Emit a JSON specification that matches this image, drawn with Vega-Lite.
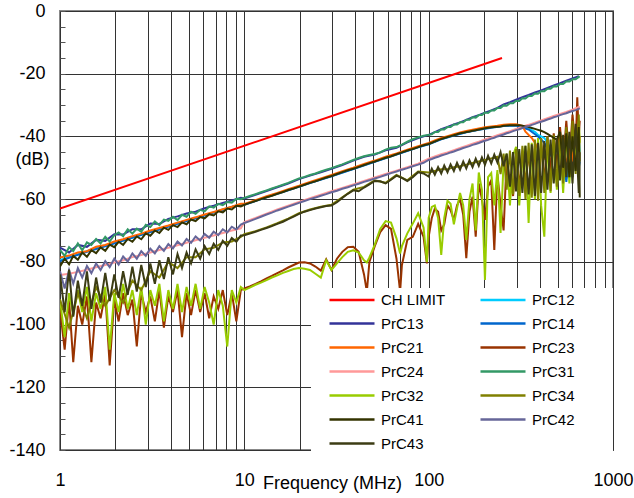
{
  "$schema": "https://vega.github.io/schema/vega-lite/v6.json",
  "width": 553,
  "height": 439,
  "autosize": "none",
  "padding": {"left": 60, "top": 11, "right": 21, "bottom": 48},
  "background": "white",
  "config": {
    "view": {"stroke": "#888888", "strokeWidth": 2},
    "font": "Liberation Sans"
  },
  "data": {"values": [
    {"f":1,"CH LIMIT":-63,"PrC31":-76.2,"PrC13":-75.5,"PrC41":-81.5,"PrC21":-78.6,"PrC12":-79.4,"PrC14":-79.8,"PrC42":-83,"PrC24":-84.2,"PrC43":-84,"PrC34":-92,"PrC32":-92,"PrC23":-95},
    {"f":1.06,"PrC31":-78.1,"PrC41":-79,"PrC42":-88.5,"PrC43":-96,"PrC32":-104,"PrC23":-108},
    {"f":1.12,"PrC31":-75.3,"PrC13":-77,"PrC41":-80.8,"PrC21":-78,"PrC14":-78.7,"PrC42":-82.6,"PrC24":-83.8,"PrC43":-82.5,"PrC34":-101,"PrC32":-90,"PrC23":-92},
    {"f":1.18,"PrC31":-76.6,"PrC41":-78.1,"PrC42":-86.9,"PrC43":-97.5,"PrC32":-97,"PrC23":-112},
    {"f":1.25,"PrC31":-74.1,"PrC13":-74.6,"PrC41":-79.3,"PrC21":-77,"PrC12":-77.6,"PrC42":-82,"PrC24":-83.2,"PrC43":-86,"PrC34":-90,"PrC32":-89,"PrC23":-94},
    {"f":1.32,"PrC31":-76.3,"PrC41":-77,"PrC42":-85,"PrC43":-94,"PrC32":-96,"PrC23":-100},
    {"f":1.4,"PrC31":-73.8,"PrC13":-75.2,"PrC41":-78.4,"PrC21":-76.6,"PrC14":-76.8,"PrC42":-81.3,"PrC24":-82.5,"PrC43":-83,"PrC34":-98,"PrC32":-88,"PrC23":-91},
    {"f":1.48,"PrC31":-74.6,"PrC41":-76.3,"PrC42":-83.6,"PrC43":-95,"PrC32":-99,"PrC23":-112},
    {"f":1.57,"PrC31":-72.7,"PrC13":-73,"PrC41":-77.2,"PrC21":-75.2,"PrC12":-75.6,"PrC42":-80.5,"PrC24":-81.7,"PrC43":-85,"PrC34":-88,"PrC32":-90,"PrC23":-93},
    {"f":1.66,"PrC31":-74.1,"PrC41":-75.4,"PrC42":-82.6,"PrC43":-93,"PrC32":-95,"PrC23":-98},
    {"f":1.76,"PrC31":-72,"PrC13":-73.3,"PrC41":-76.5,"PrC21":-74.6,"PrC14":-75,"PrC42":-79.8,"PrC24":-81,"PrC43":-83.5,"PrC34":-94,"PrC32":-88,"PrC23":-90},
    {"f":1.86,"PrC31":-73.5,"PrC41":-74.5,"PrC42":-81.7,"PrC43":-92.5,"PrC32":-108,"PrC23":-113},
    {"f":1.97,"PrC31":-71.5,"PrC13":-71.2,"PrC41":-75.3,"PrC21":-73.5,"PrC12":-74,"PrC42":-79,"PrC24":-80.2,"PrC43":-84,"PrC34":-89,"PrC32":-90,"PrC23":-92},
    {"f":2.08,"PrC31":-70.6,"PrC41":-73.6,"PrC42":-80.9,"PrC43":-91.5,"PrC32":-96,"PrC23":-99},
    {"f":2.2,"PrC31":-71.8,"PrC13":-71.3,"PrC41":-74.6,"PrC21":-72.8,"PrC14":-73.2,"PrC42":-78.3,"PrC24":-79.5,"PrC43":-83,"PrC34":-93,"PrC32":-87,"PrC23":-90},
    {"f":2.33,"PrC31":-69.6,"PrC41":-72.7,"PrC42":-79.9,"PrC43":-90.5,"PrC32":-95,"PrC23":-97},
    {"f":2.47,"PrC31":-71,"PrC13":-69.6,"PrC41":-73.6,"PrC21":-71.8,"PrC12":-72.3,"PrC42":-77.3,"PrC24":-78.5,"PrC43":-81.5,"PrC34":-86,"PrC32":-89,"PrC23":-92},
    {"f":2.61,"PrC31":-69.4,"PrC41":-71.9,"PrC42":-79,"PrC43":-89.5,"PrC32":-97,"PrC23":-107},
    {"f":2.76,"PrC31":-70.4,"PrC13":-69.6,"PrC41":-72.8,"PrC21":-71,"PrC14":-71.4,"PrC42":-76.6,"PrC24":-77.8,"PrC43":-81,"PrC34":-89,"PrC32":-88,"PrC23":-90},
    {"f":2.92,"PrC31":-68.2,"PrC41":-70.9,"PrC42":-78.1,"PrC43":-88,"PrC32":-100,"PrC23":-96},
    {"f":3.09,"PrC31":-68.9,"PrC13":-67.8,"PrC41":-71.7,"PrC21":-70,"PrC12":-70.4,"PrC42":-75.8,"PrC24":-77,"PrC43":-80.5,"PrC34":-83,"PrC32":-89,"PrC23":-91},
    {"f":3.27,"PrC31":-67.1,"PrC41":-70,"PrC42":-77.3,"PrC43":-87,"PrC32":-94,"PrC23":-99},
    {"f":3.46,"PrC31":-68.3,"PrC13":-67.9,"PrC41":-70.8,"PrC21":-69.2,"PrC14":-69.7,"PrC42":-75,"PrC24":-76.2,"PrC43":-79.5,"PrC34":-85,"PrC32":-87,"PrC23":-89},
    {"f":3.66,"PrC31":-66.5,"PrC41":-69.1,"PrC42":-76.5,"PrC43":-85.5,"PrC32":-99,"PrC23":-101},
    {"f":3.87,"PrC31":-66.9,"PrC13":-66.3,"PrC41":-69.8,"PrC21":-68.4,"PrC12":-68.6,"PrC42":-74.3,"PrC24":-75.5,"PrC43":-78.5,"PrC34":-80,"PrC32":-89,"PrC23":-91},
    {"f":4.1,"PrC31":-65.6,"PrC41":-68.3,"PrC42":-75.7,"PrC43":-84,"PrC32":-95,"PrC23":-96},
    {"f":4.34,"PrC31":-66.7,"PrC13":-65.5,"PrC41":-68.9,"PrC21":-67.5,"PrC14":-67.9,"PrC42":-73.5,"PrC24":-74.7,"PrC43":-77.5,"PrC34":-82,"PrC32":-87,"PrC23":-89},
    {"f":4.59,"PrC31":-65,"PrC41":-67.4,"PrC42":-74.8,"PrC43":-82,"PrC32":-96,"PrC23":-104},
    {"f":4.86,"PrC31":-65.6,"PrC13":-64.6,"PrC41":-68,"PrC21":-66.6,"PrC12":-66.8,"PrC42":-72.7,"PrC24":-73.9,"PrC43":-77,"PrC34":-78.5,"PrC32":-88,"PrC23":-90},
    {"f":5.14,"PrC31":-64,"PrC41":-66.5,"PrC42":-73.9,"PrC43":-80.5,"PrC32":-94,"PrC23":-97},
    {"f":5.44,"PrC31":-64.7,"PrC13":-64,"PrC41":-67,"PrC21":-65.8,"PrC14":-66.1,"PrC42":-71.9,"PrC24":-73.1,"PrC43":-76,"PrC34":-78.5,"PrC32":-87,"PrC23":-89},
    {"f":5.76,"PrC31":-63.4,"PrC41":-65.7,"PrC42":-73.2,"PrC43":-79,"PrC32":-95,"PrC23":-96},
    {"f":6.09,"PrC31":-63.9,"PrC13":-62.9,"PrC41":-66.1,"PrC21":-64.9,"PrC12":-65.1,"PrC42":-71.1,"PrC24":-72.3,"PrC43":-75,"PrC34":-76,"PrC32":-88,"PrC23":-90},
    {"f":6.45,"PrC31":-62.3,"PrC41":-64.8,"PrC42":-72.3,"PrC43":-77.5,"PrC32":-93,"PrC23":-98},
    {"f":6.82,"PrC31":-62.7,"PrC13":-62.1,"PrC41":-65.2,"PrC21":-64.1,"PrC14":-64.3,"PrC42":-70.4,"PrC24":-71.6,"PrC43":-74.2,"PrC34":-75.5,"PrC32":-100,"PrC23":-91},
    {"f":7.22,"PrC31":-61.5,"PrC41":-63.9,"PrC42":-71.5,"PrC43":-76.2,"PrC32":-89,"PrC23":-95},
    {"f":7.64,"PrC31":-61.9,"PrC13":-61.2,"PrC41":-64.2,"PrC21":-63.2,"PrC12":-63.3,"PrC42":-69.6,"PrC24":-70.8,"PrC43":-73.3,"PrC34":-73.8,"PrC32":-94,"PrC23":-89},
    {"f":8.08,"PrC31":-60.9,"PrC41":-63,"PrC42":-70.6,"PrC43":-74.9,"PrC32":-107,"PrC23":-97},
    {"f":8.55,"PrC31":-61.1,"PrC13":-60.4,"PrC41":-63.3,"PrC21":-62.4,"PrC14":-62.5,"PrC42":-68.8,"PrC24":-70,"PrC43":-72.4,"PrC34":-73.5,"PrC32":-89,"PrC23":-90},
    {"f":9.05,"PrC31":-59.9,"PrC41":-62.1,"PrC42":-69.7,"PrC43":-73.6,"PrC32":-93,"PrC23":-99},
    {"f":9.57,"PrC31":-60,"PrC13":-59.6,"PrC41":-62.3,"PrC21":-61.5,"PrC12":-61.6,"PrC42":-68.1,"PrC24":-69.3,"PrC43":-71.6,"PrC34":-72,"PrC32":-88,"PrC23":-89},
    {"f":10,"PrC31":-59.6,"PrC13":-59.8,"PrC41":-61.8,"PrC21":-61.5,"PrC14":-61.8,"PrC12":-61.7,"PrC42":-67.6,"PrC24":-67.3,"PrC43":-71.5,"PrC34":-71.2,"PrC32":-89,"PrC23":-88.5},
    {"f":10.7,"PrC31":-59,"PrC41":-61.2,"PrC42":-67,"PrC43":-71,"PrC32":-88.2,"PrC23":-87.8},
    {"f":11.5,"PrC31":-58.4,"PrC13":-58.6,"PrC41":-60.6,"PrC21":-60.3,"PrC42":-66.3,"PrC24":-66,"PrC43":-70.4,"PrC34":-70.2,"PrC32":-87.3,"PrC23":-87},
    {"f":12.3,"PrC31":-57.8,"PrC41":-60,"PrC42":-65.6,"PrC43":-69.8,"PrC32":-86.6,"PrC23":-86.2},
    {"f":13.2,"PrC31":-57.2,"PrC13":-57.4,"PrC41":-59.4,"PrC21":-59.1,"PrC12":-59.3,"PrC14":-59.4,"PrC42":-64.9,"PrC24":-64.6,"PrC43":-69.2,"PrC34":-69,"PrC32":-85.8,"PrC23":-85.3},
    {"f":14.1,"PrC31":-56.6,"PrC41":-58.9,"PrC42":-64.3,"PrC43":-68.6,"PrC32":-85,"PrC23":-84.5},
    {"f":15.1,"PrC31":-56,"PrC13":-56.2,"PrC41":-58.3,"PrC21":-58,"PrC42":-63.6,"PrC24":-63.3,"PrC43":-67.9,"PrC34":-67.7,"PrC32":-84.3,"PrC23":-83.6},
    {"f":16.2,"PrC31":-55.4,"PrC41":-57.7,"PrC42":-63,"PrC43":-67.2,"PrC32":-83.5,"PrC23":-82.7},
    {"f":17.3,"PrC31":-54.8,"PrC13":-55,"PrC41":-57.1,"PrC21":-56.8,"PrC12":-57.1,"PrC14":-57.2,"PrC42":-62.4,"PrC24":-62.1,"PrC43":-66.4,"PrC34":-66.2,"PrC32":-82.9,"PrC23":-81.8},
    {"f":18.5,"PrC31":-54.1,"PrC41":-56.6,"PrC42":-61.8,"PrC43":-65.6,"PrC32":-82.3,"PrC23":-81},
    {"f":19.8,"PrC31":-53.4,"PrC13":-53.6,"PrC41":-56,"PrC21":-55.7,"PrC42":-61.2,"PrC24":-60.9,"PrC43":-64.7,"PrC34":-64.5,"PrC32":-82,"PrC23":-80.2},
    {"f":21.2,"PrC31":-52.9,"PrC41":-55.4,"PrC42":-60.6,"PrC43":-64,"PrC32":-82.2,"PrC23":-80.1},
    {"f":22.7,"PrC31":-52.3,"PrC13":-52.5,"PrC41":-54.8,"PrC21":-54.5,"PrC12":-54.8,"PrC14":-54.9,"PrC42":-60,"PrC24":-59.7,"PrC43":-63.5,"PrC34":-63.3,"PrC32":-82.6,"PrC23":-80.5},
    {"f":24.3,"PrC31":-51.8,"PrC41":-54.3,"PrC42":-59.5,"PrC43":-63,"PrC32":-83.8,"PrC23":-81.5},
    {"f":26,"PrC31":-51.2,"PrC13":-51.4,"PrC41":-53.7,"PrC21":-53.4,"PrC42":-58.9,"PrC24":-58.6,"PrC43":-62.6,"PrC34":-62.4,"PrC32":-85,"PrC23":-82.8},
    {"f":27.8,"PrC31":-50.6,"PrC41":-53.1,"PrC42":-58.4,"PrC43":-62.2,"PrC32":-79.5,"PrC23":-79.2},
    {"f":29.7,"PrC31":-50.1,"PrC13":-50.3,"PrC41":-52.6,"PrC21":-52.3,"PrC12":-52.6,"PrC14":-52.7,"PrC42":-57.8,"PrC24":-57.5,"PrC43":-62,"PrC34":-61.8,"PrC32":-82.6,"PrC23":-82.6},
    {"f":31.8,"PrC31":-49.5,"PrC41":-52,"PrC42":-57.3,"PrC43":-61,"PrC32":-80.5,"PrC23":-79},
    {"f":34,"PrC31":-48.9,"PrC13":-49.1,"PrC41":-51.4,"PrC21":-51.1,"PrC42":-56.7,"PrC24":-56.4,"PrC43":-59.6,"PrC34":-59.4,"PrC32":-78.5,"PrC23":-76.8},
    {"f":36.4,"PrC31":-48.2,"PrC41":-50.8,"PrC42":-56.2,"PrC43":-58.3,"PrC32":-76.8,"PrC23":-75.3},
    {"f":39,"PrC31":-47.5,"PrC13":-47.7,"PrC41":-50.3,"PrC21":-50,"PrC12":-50.3,"PrC14":-50.4,"PrC42":-55.6,"PrC24":-55.3,"PrC43":-57.2,"PrC34":-57,"PrC32":-76.3,"PrC23":-75.2},
    {"f":41.7,"PrC31":-46.9,"PrC41":-49.7,"PrC42":-55.1,"PrC43":-57.5,"PrC32":-77,"PrC23":-76.8},
    {"f":44.6,"PrC31":-46.3,"PrC13":-46.5,"PrC41":-49.1,"PrC21":-48.8,"PrC42":-54.5,"PrC24":-54.2,"PrC43":-56.3,"PrC34":-56.1,"PrC32":-79.5,"PrC23":-84},
    {"f":46.2,"PrC32":-80.2,"PrC23":-89.5},
    {"f":47.7,"PrC31":-45.9,"PrC41":-48.5,"PrC42":-54,"PrC43":-55.3,"PrC32":-78.6,"PrC23":-80},
    {"f":51,"PrC31":-45.6,"PrC13":-45.8,"PrC41":-48,"PrC21":-47.7,"PrC12":-48,"PrC14":-48.1,"PrC42":-53.4,"PrC24":-53.1,"PrC43":-54.2,"PrC34":-54,"PrC32":-74.5,"PrC23":-75},
    {"f":54.6,"PrC31":-45.1,"PrC41":-47.4,"PrC42":-52.9,"PrC43":-54.3,"PrC32":-69.5,"PrC23":-70.5},
    {"f":58.4,"PrC31":-44.2,"PrC13":-44.4,"PrC41":-46.8,"PrC21":-46.5,"PrC42":-52.3,"PrC24":-52,"PrC43":-55,"PrC34":-54.8,"PrC32":-67,"PrC23":-68.3},
    {"f":62.5,"PrC31":-43.6,"PrC41":-46.3,"PrC42":-51.7,"PrC43":-53.8,"PrC32":-67.5,"PrC23":-69.5},
    {"f":66.9,"PrC31":-43.4,"PrC13":-43.6,"PrC41":-45.7,"PrC21":-45.4,"PrC12":-45.7,"PrC14":-45.8,"PrC42":-51.2,"PrC24":-50.9,"PrC43":-52.5,"PrC34":-52.3,"PrC32":-72.5,"PrC23":-79},
    {"f":70,"PrC32":-77.3,"PrC23":-89.5},
    {"f":71.6,"PrC31":-42.6,"PrC41":-45.1,"PrC42":-50.6,"PrC43":-53.2,"PrC32":-75,"PrC23":-81},
    {"f":76.6,"PrC31":-41.7,"PrC13":-41.9,"PrC41":-44.5,"PrC21":-44.2,"PrC42":-50.1,"PrC24":-49.8,"PrC43":-54.2,"PrC34":-54,"PrC32":-70.9,"PrC23":-73},
    {"f":82,"PrC31":-40.9,"PrC41":-44,"PrC42":-49.5,"PrC43":-53,"PrC32":-67.8,"PrC23":-72},
    {"f":87.7,"PrC31":-40.3,"PrC13":-40.5,"PrC41":-43.4,"PrC21":-43.1,"PrC12":-43.4,"PrC14":-43.5,"PrC42":-49,"PrC24":-48.7,"PrC43":-51.4,"PrC34":-51.2,"PrC32":-64.5,"PrC23":-67.9},
    {"f":93.8,"PrC31":-39.8,"PrC41":-42.8,"PrC42":-48.4,"PrC43":-51.8,"PrC32":-69,"PrC23":-72},
    {"f":97.8,"PrC32":-80,"PrC23":-80.5},
    {"f":100,"PrC31":-39.5,"PrC13":-39.5,"PrC41":-42.4,"PrC21":-42.1,"PrC12":-42.4,"PrC14":-42.5,"PrC42":-47.5,"PrC24":-47.1,"PrC43":-52.8,"PrC34":-51.5,"PrC32":-66,"PrC23":-72},
    {"f":104,"PrC31":-39.3,"PrC41":-42,"PrC42":-47.2,"PrC43":-50.3,"PrC32":-62.5,"PrC23":-66},
    {"f":108,"PrC31":-38.6,"PrC13":-38.6,"PrC41":-41.6,"PrC21":-41.3,"PrC42":-46.8,"PrC24":-46.4,"PrC43":-52.2,"PrC34":-51,"PrC32":-62,"PrC23":-63},
    {"f":112.5,"PrC31":-38.6,"PrC41":-41.2,"PrC42":-46.5,"PrC43":-49.8,"PrC32":-66,"PrC23":-64},
    {"f":117,"PrC31":-37.7,"PrC13":-37.7,"PrC41":-40.8,"PrC21":-40.5,"PrC12":-40.8,"PrC14":-40.9,"PrC42":-46.1,"PrC24":-45.7,"PrC43":-51.8,"PrC34":-50.5,"PrC32":-77.8,"PrC23":-70},
    {"f":121.5,"PrC31":-37.8,"PrC41":-40.5,"PrC42":-45.8,"PrC43":-49.3,"PrC32":-66,"PrC23":-68},
    {"f":126.5,"PrC31":-37,"PrC13":-37,"PrC41":-40.2,"PrC21":-39.9,"PrC42":-45.5,"PrC24":-45.1,"PrC43":-51.4,"PrC34":-50.5,"PrC32":-60.5,"PrC23":-62},
    {"f":131.5,"PrC31":-37,"PrC41":-39.9,"PrC42":-45.1,"PrC43":-48.9,"PrC32":-61.5,"PrC23":-63.5},
    {"f":137,"PrC31":-36.2,"PrC13":-36.2,"PrC41":-39.6,"PrC21":-39.3,"PrC12":-39.6,"PrC14":-39.7,"PrC42":-44.8,"PrC24":-44.4,"PrC43":-51,"PrC34":-49.8,"PrC32":-68,"PrC23":-66.6},
    {"f":142.5,"PrC31":-36.2,"PrC41":-39.3,"PrC42":-44.4,"PrC43":-48.4,"PrC32":-63,"PrC23":-62},
    {"f":148,"PrC31":-35.5,"PrC13":-35.5,"PrC41":-39,"PrC21":-38.7,"PrC42":-44.1,"PrC24":-43.7,"PrC43":-50.6,"PrC34":-49.5,"PrC32":-58,"PrC23":-60},
    {"f":154,"PrC31":-35.5,"PrC41":-38.8,"PrC42":-43.7,"PrC43":-48,"PrC32":-62,"PrC23":-65},
    {"f":160,"PrC31":-34.7,"PrC13":-34.7,"PrC41":-38.6,"PrC21":-38.3,"PrC12":-38.6,"PrC14":-38.7,"PrC42":-43.4,"PrC24":-43,"PrC43":-50.2,"PrC34":-49,"PrC32":-73,"PrC23":-78.8},
    {"f":166.5,"PrC31":-34.7,"PrC41":-38.4,"PrC42":-43.1,"PrC43":-47.6,"PrC32":-60,"PrC23":-64},
    {"f":173,"PrC31":-33.9,"PrC13":-33.9,"PrC41":-38.2,"PrC21":-37.9,"PrC42":-42.7,"PrC24":-42.3,"PrC43":-49.8,"PrC34":-48.5,"PrC32":-55,"PrC23":-59.2},
    {"f":180,"PrC31":-34,"PrC41":-38,"PrC42":-42.4,"PrC43":-47.1,"PrC32":-70,"PrC23":-72},
    {"f":187,"PrC31":-33.2,"PrC13":-33.2,"PrC41":-37.8,"PrC21":-37.5,"PrC12":-37.8,"PrC14":-37.9,"PrC42":-42.1,"PrC24":-41.7,"PrC43":-49.4,"PrC34":-48,"PrC32":-51.5,"PrC23":-55},
    {"f":194.5,"PrC31":-33.2,"PrC41":-37.6,"PrC42":-41.7,"PrC43":-46.7,"PrC32":-57,"PrC23":-60},
    {"f":202,"PrC31":-32.4,"PrC13":-32.4,"PrC41":-37.4,"PrC21":-37.1,"PrC42":-41.4,"PrC24":-41,"PrC43":-49,"PrC34":-47.5,"PrC32":-85.8,"PrC23":-66.6},
    {"f":210,"PrC31":-32.5,"PrC41":-37.2,"PrC42":-41.1,"PrC43":-46.2,"PrC32":-53,"PrC23":-56},
    {"f":218.5,"PrC31":-31.7,"PrC13":-31.7,"PrC41":-37.1,"PrC21":-36.8,"PrC12":-37.1,"PrC14":-37.2,"PrC42":-40.7,"PrC24":-40.3,"PrC43":-48.6,"PrC34":-47,"PrC32":-51.7,"PrC23":-54},
    {"f":227,"PrC31":-31.7,"PrC41":-37,"PrC42":-40.4,"PrC43":-45.8,"PrC32":-62,"PrC23":-76.2},
    {"f":236,"PrC31":-30.9,"PrC13":-30.9,"PrC41":-36.9,"PrC21":-36.6,"PrC42":-40,"PrC24":-39.6,"PrC43":-48.3,"PrC34":-46.5,"PrC32":-50.7,"PrC23":-52},
    {"f":245.5,"PrC31":-30.9,"PrC41":-36.8,"PrC42":-39.7,"PrC43":-45,"PrC34":-52,"PrC32":-70.8,"PrC23":-62},
    {"f":250,"CH LIMIT":-15},
    {"f":255,"PrC31":-30.1,"PrC13":-29.8,"PrC41":-36.6,"PrC21":-36.3,"PrC12":-36.6,"PrC14":-36.7,"PrC42":-39.4,"PrC24":-39,"PrC43":-49.5,"PrC34":-45.5,"PrC32":-48,"PrC23":-70},
    {"f":265,"PrC31":-30.2,"PrC41":-36.5,"PrC42":-39,"PrC43":-45.5,"PrC34":-57,"PrC32":-45.5,"PrC23":-47},
    {"f":276,"PrC31":-29.4,"PrC13":-29.1,"PrC41":-36.4,"PrC21":-36.1,"PrC42":-38.7,"PrC24":-38.3,"PrC43":-56,"PrC34":-44.5,"PrC32":-62,"PrC23":-55},
    {"f":287,"PrC31":-29.4,"PrC41":-36.4,"PrC42":-38.3,"PrC43":-45,"PrC34":-58.5,"PrC32":-46,"PrC23":-59},
    {"f":298,"PrC31":-28.6,"PrC13":-28.3,"PrC41":-36.4,"PrC21":-36.1,"PrC12":-36.4,"PrC14":-36.5,"PrC42":-38,"PrC24":-37.6,"PrC43":-57.5,"PrC34":-44,"PrC32":-43.3,"PrC23":-45.5},
    {"f":310,"PrC31":-28.7,"PrC41":-36.4,"PrC42":-37.7,"PrC43":-44,"PrC34":-59,"PrC32":-62,"PrC23":-56},
    {"f":322.5,"PrC31":-27.8,"PrC13":-27.5,"PrC41":-36.6,"PrC21":-36.6,"PrC42":-37.3,"PrC24":-36.9,"PrC43":-58,"PrC34":-43,"PrC32":-47,"PrC23":-46},
    {"f":335,"PrC31":-27.9,"PrC41":-36.8,"PrC21":-38.5,"PrC42":-37,"PrC43":-43,"PrC34":-60,"PrC32":-43,"PrC23":-55},
    {"f":348.5,"PrC31":-27.1,"PrC13":-26.8,"PrC41":-37,"PrC21":-39.5,"PrC12":-37.5,"PrC14":-37.8,"PrC42":-36.7,"PrC24":-36.3,"PrC43":-58.5,"PrC34":-42,"PrC32":-67.6,"PrC23":-44.5},
    {"f":362.5,"PrC31":-27.1,"PrC41":-37.3,"PrC21":-40.5,"PrC42":-36.3,"PrC43":-42.5,"PrC34":-59.5,"PrC32":-42,"PrC23":-58},
    {"f":377,"PrC31":-26.3,"PrC13":-26,"PrC41":-37.6,"PrC21":-42,"PrC12":-38.5,"PrC42":-36,"PrC24":-35.6,"PrC43":-59,"PrC34":-41,"PrC32":-60,"PrC23":-43},
    {"f":392,"PrC31":-26.4,"PrC41":-37.9,"PrC21":-44,"PrC12":-39.5,"PrC14":-40,"PrC42":-35.6,"PrC43":-42,"PrC34":-60.5,"PrC32":-40.5,"PrC23":-57},
    {"f":407.5,"PrC31":-25.6,"PrC13":-25.3,"PrC41":-38.2,"PrC21":-46,"PrC12":-40,"PrC42":-35.3,"PrC24":-34.9,"PrC43":-58,"PrC34":-40.5,"PrC32":-62,"PrC23":-41.5},
    {"f":424,"PrC31":-25.6,"PrC41":-38.6,"PrC21":-47,"PrC12":-40.5,"PrC14":-42,"PrC42":-35,"PrC43":-41.5,"PrC34":-58,"PrC32":-72,"PrC23":-55},
    {"f":441,"PrC31":-24.8,"PrC13":-24.5,"PrC41":-39.2,"PrC21":-45,"PrC12":-42,"PrC14":-44,"PrC42":-34.6,"PrC24":-34.2,"PrC43":-57,"PrC34":-40,"PrC32":-41,"PrC23":-40},
    {"f":458.5,"PrC31":-24.8,"PrC41":-39.8,"PrC21":-48,"PrC12":-44,"PrC14":-46,"PrC42":-34.3,"PrC43":-41,"PrC34":-57.5,"PrC32":-58,"PrC23":-52},
    {"f":477,"PrC31":-24,"PrC13":-23.7,"PrC41":-40.5,"PrC21":-44,"PrC12":-42,"PrC14":-45,"PrC42":-33.9,"PrC24":-33.5,"PrC43":-55,"PrC34":-39.5,"PrC32":-40,"PrC23":-39},
    {"f":496,"PrC31":-24.1,"PrC41":-41,"PrC21":-47.5,"PrC12":-48,"PrC14":-48,"PrC42":-33.6,"PrC43":-40.5,"PrC34":-56,"PrC32":-57,"PrC23":-50},
    {"f":516,"PrC31":-23.3,"PrC13":-23,"PrC41":-38.5,"PrC21":-52,"PrC12":-43,"PrC14":-51,"PrC42":-33.2,"PrC24":-32.8,"PrC43":-54,"PrC34":-38.5,"PrC32":-41,"PrC23":-37},
    {"f":536.5,"PrC31":-23.3,"PrC41":-50,"PrC21":-42,"PrC12":-49,"PrC14":-45,"PrC42":-32.9,"PrC43":-39.5,"PrC34":-55,"PrC32":-58,"PrC23":-49},
    {"f":558,"PrC31":-22.5,"PrC13":-22.2,"PrC41":-39,"PrC21":-50,"PrC12":-42,"PrC14":-54.5,"PrC42":-32.6,"PrC24":-32.2,"PrC43":-53,"PrC34":-37,"PrC32":-39,"PrC23":-35},
    {"f":580,"PrC31":-22.5,"PrC41":-53,"PrC21":-40,"PrC12":-50,"PrC14":-47,"PrC42":-32.2,"PrC43":-38.5,"PrC34":-53,"PrC32":-55,"PrC23":-48},
    {"f":603,"PrC31":-21.8,"PrC13":-21.5,"PrC41":-40,"PrC21":-48,"PrC12":-41,"PrC14":-53,"PrC42":-31.9,"PrC24":-31.5,"PrC43":-55,"PrC34":-35,"PrC32":-38,"PrC23":-33},
    {"f":627,"PrC31":-21.8,"PrC41":-51,"PrC21":-38,"PrC12":-47,"PrC14":-44,"PrC42":-31.6,"PrC43":-36,"PrC34":-52,"PrC32":-48,"PrC23":-44},
    {"f":640,"PrC23":-27.5},
    {"f":652,"PrC31":-21,"PrC13":-20.8,"PrC41":-37,"PrC21":-45,"PrC12":-38,"PrC14":-50,"PrC42":-31.2,"PrC24":-30.6,"PrC43":-58,"PrC34":-33,"PrC32":-35,"PrC23":-40},
    {"f":660,"PrC31":-21.2,"PrC41":-59.5,"PrC21":-40,"PrC12":-45,"PrC14":-48,"PrC42":-31,"PrC24":-30.8,"PrC43":-45,"PrC34":-48,"PrC32":-42,"PrC23":-35}
  ]},
  "transform": [
    {"fold": ["CH LIMIT","PrC12","PrC13","PrC14","PrC21","PrC23","PrC24","PrC31","PrC32","PrC34","PrC41","PrC42","PrC43"], "as": ["series","dB"]},
    {"filter": "isValid(datum.dB)"}
  ],
  "mark": {"type": "line", "strokeWidth": 2, "clip": true},
  "encoding": {
    "x": {
      "field": "f", "type": "quantitative",
      "scale": {"type": "log", "domain": [1, 1000], "nice": false},
      "axis": {
        "values": [1,2,3,4,5,6,7,8,9,10,20,30,40,50,60,70,80,90,100,200,300,400,500,600,700,800,900,1000],
        "grid": true, "gridColor": "#333333", "gridWidth": 1,
        "ticks": false, "domain": false,
        "labelExpr": "indexof([1,10,100,1000], datum.value) >= 0 ? '' + datum.value : ''",
        "labelOverlap": false, "labelFlush": false, "labelPadding": 21,
        "labelFontSize": 18, "labelColor": "#000000", "labelFont": "Liberation Sans",
        "title": "Frequency (MHz)", "titleX": 272, "titleY": 33,
        "titleAlign": "center", "titleBaseline": "middle",
        "titleFontSize": 18, "titleFontWeight": "normal", "titleColor": "#000000", "titleFont": "Liberation Sans"
      }
    },
    "y": {
      "field": "dB", "type": "quantitative",
      "scale": {"domain": [-140, 0], "nice": false, "zero": false},
      "axis": {
        "values": [-140,-135,-130,-125,-120,-115,-110,-105,-100,-95,-90,-85,-80,-75,-70,-65,-60,-55,-50,-45,-40,-35,-30,-25,-20,-15,-10,-5,0],
        "grid": true, "gridColor": "#333333", "gridWidth": 1,
        "gridOpacity": {"condition": {"test": "datum.value % 20 === 0", "value": 1}, "value": 0},
        "tickSize": -5, "tickColor": "#555555", "domain": false,
        "labelExpr": "datum.value % 20 === 0 ? '' + datum.value : ''",
        "labelOverlap": false, "labelFlush": false, "labelPadding": 20,
        "labelFontSize": 18, "labelColor": "#000000", "labelFont": "Liberation Sans",
        "title": "(dB)", "titleAngle": 0, "titleX": -28, "titleY": 148.5,
        "titleAlign": "center", "titleBaseline": "middle",
        "titleFontSize": 18, "titleFontWeight": "normal", "titleColor": "#000000", "titleFont": "Liberation Sans"
      }
    },
    "color": {
      "field": "series", "type": "nominal",
      "scale": {
        "domain": ["CH LIMIT","PrC12","PrC13","PrC14","PrC21","PrC23","PrC24","PrC31","PrC32","PrC34","PrC41","PrC42","PrC43"],
        "range": ["#FF0000","#00CCFF","#333399","#0066CC","#FF6600","#993300","#FF9999","#339966","#99CC00","#808000","#333300","#666699","#3C3C14"]
      },
      "legend": {
        "title": "\u200b\u00a0\u00a0\u00a0\u00a0\u200b", "titleOrient": "left", "titlePadding": 0,
        "titleFontSize": 15, "titleFontWeight": "normal", "titleFont": "Liberation Sans",
        "orient": "none", "legendX": 251, "legendY": 277,
        "direction": "horizontal", "columns": 2, "fillColor": "white", "padding": 0,
        "clipHeight": 23.1, "rowPadding": 0, "columnPadding": 33,
        "symbolType": "stroke", "symbolSize": 2025, "symbolStrokeWidth": 2.5,
        "symbolOffset": 0, "labelOffset": 5,
        "labelExpr": "indexof(['PrC12','PrC14','PrC23','PrC31','PrC34','PrC42'], datum.label) >= 0 ? datum.label + '\u00a0\u00a0\u00a0\u00a0\u00a0\u00a0\u00a0\u00a0\u00a0\u200b' : datum.label",
        "labelFontSize": 15, "labelFont": "Liberation Sans", "labelColor": "#000000"
      }
    }
  }
}
